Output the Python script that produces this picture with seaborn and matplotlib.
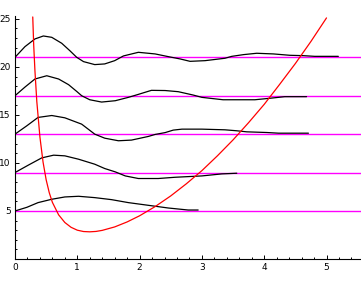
import numpy as np
import pandas as pd
import matplotlib
matplotlib.use("Agg")
import matplotlib.pyplot as plt
from matplotlib.ticker import MultipleLocator, FixedLocator
import seaborn as sns

# Energy levels (magenta horizontal lines)
levels = [5, 9, 13, 17, 21]

# Potential curve (red)
pot_x = [0.285, 0.30, 0.32, 0.35, 0.40, 0.45, 0.50, 0.55, 0.60, 0.70, 0.80, 0.90,
         1.00, 1.10, 1.20, 1.30, 1.40, 1.60, 1.80, 2.00, 2.25, 2.50, 2.75, 3.00,
         3.25, 3.50, 3.75, 4.00, 4.25, 4.50, 4.75, 5.00]
pot_y = [25.2, 22.3, 19.6, 16.4, 12.7, 10.1, 8.25, 6.9, 5.9, 4.6, 3.8, 3.3,
         3.0, 2.86, 2.83, 2.87, 2.98, 3.34, 3.86, 4.5, 5.46, 6.57, 7.83, 9.2,
         10.75, 12.4, 14.2, 16.1, 18.2, 20.35, 22.65, 25.1]

# Wave curves (black): x positions and offsets from their level
w5_x = [0, 0.19, 0.37, 0.59, 0.80, 1.02, 1.28, 1.55, 1.82, 2.14, 2.46, 2.78, 2.94]
w5_d = [0, 0.38, 0.87, 1.22, 1.46, 1.53, 1.39, 1.18, 0.87, 0.59, 0.31, 0.10, 0.10]

w9_x = [0, 0.21, 0.43, 0.62, 0.80, 1.02, 1.28, 1.44, 1.61, 1.77, 1.98, 2.30, 2.57, 3.0, 3.32, 3.56]
w9_d = [0, 0.76, 1.53, 1.81, 1.74, 1.39, 0.87, 0.42, 0.07, -0.35, -0.62, -0.62, -0.49, -0.35, -0.14, -0.07]

w13_x = [0, 0.19, 0.37, 0.59, 0.80, 1.07, 1.28, 1.44, 1.66, 1.87, 2.14, 2.25, 2.41, 2.54, 2.68,
         3.0, 3.37, 3.56, 3.72, 4.04, 4.23, 4.71]
w13_d = [0, 0.87, 1.74, 1.94, 1.70, 1.04, 0, -0.42, -0.69, -0.62, -0.24, -0.03, 0.16, 0.42, 0.52,
         0.52, 0.45, 0.35, 0.24, 0.17, 0.10, 0.10]

w17_x = [0, 0.16, 0.32, 0.51, 0.70, 0.86, 0.99, 1.07, 1.20, 1.39, 1.61, 1.82, 1.98, 2.19, 2.41,
         2.62, 2.86, 3.0, 3.34, 3.85, 4.07, 4.33, 4.68]
w17_d = [0, 0.90, 1.74, 2.08, 1.74, 1.15, 0.45, 0, -0.42, -0.66, -0.52, -0.17, 0.14, 0.56, 0.54,
         0.42, 0.07, -0.17, -0.42, -0.42, -0.28, -0.10, -0.10]

w21_x = [0, 0.16, 0.32, 0.455, 0.59, 0.75, 0.88, 0.99, 1.10, 1.28, 1.44, 1.60, 1.74, 1.98, 2.25,
         2.46, 2.65, 2.81, 3.05, 3.37, 3.48, 3.67, 3.88, 4.15, 4.41, 4.63, 4.81, 5.19]
w21_d = [0, 1.11, 1.91, 2.22, 2.08, 1.46, 0.69, 0, -0.45, -0.76, -0.69, -0.35, 0.14, 0.52, 0.35,
         0.07, -0.17, -0.42, -0.35, -0.10, 0.10, 0.28, 0.42, 0.35, 0.21, 0.17, 0.10, 0.10]

waves = [(w5_x, w5_d), (w9_x, w9_d), (w13_x, w13_d), (w17_x, w17_d), (w21_x, w21_d)]

W, H = 361, 285
fig = plt.figure(figsize=(W / 100, H / 100), dpi=100)
sns.set_style("white")
plt.rcParams['font.family'] = ['DejaVu Sans']

ax = fig.add_axes([15 / W, (H - 259) / H, 346 / W, (259 - 16) / H])

for lv in levels:
    ax.axhline(lv, color="#FF00FF", lw=1.0, zorder=1)

frames = []
for i, ((xs, ds), lv) in enumerate(zip(waves, levels)):
    frames.append(pd.DataFrame({"x": xs, "y": [lv + d for d in ds], "curve": i}))
wdf = pd.concat(frames, ignore_index=True)
sns.lineplot(data=wdf, x="x", y="y", units="curve", estimator=None, sort=False,
             color="black", lw=0.9, ax=ax, zorder=2)

pdf = pd.DataFrame({"x": pot_x, "y": pot_y})
sns.lineplot(data=pdf, x="x", y="y", sort=False, estimator=None,
             color="#FF0000", lw=0.9, ax=ax, zorder=3)

ax.set_xlim(0, 346 / 62.3)
ax.set_ylim(0, 25.3)
ax.set_xlabel("")
ax.set_ylabel("")

for s in ["top", "right"]:
    ax.spines[s].set_visible(False)
for s in ["left", "bottom"]:
    ax.spines[s].set_color("black")
    ax.spines[s].set_linewidth(0.8)

ax.xaxis.set_major_locator(FixedLocator([0, 1, 2, 3, 4, 5]))
ax.xaxis.set_minor_locator(MultipleLocator(0.2))
ax.yaxis.set_major_locator(FixedLocator([5, 10, 15, 20, 25]))
ax.yaxis.set_minor_locator(MultipleLocator(1))
ax.tick_params(which="both", direction="in", color="black", width=0.7,
               bottom=True, left=True, top=False, right=False,
               labelsize=6.5, labelcolor="black")
ax.tick_params(which="major", length=3.2, pad=3)
ax.tick_params(which="minor", length=1.6)

fig.savefig("out.png", dpi=100)
